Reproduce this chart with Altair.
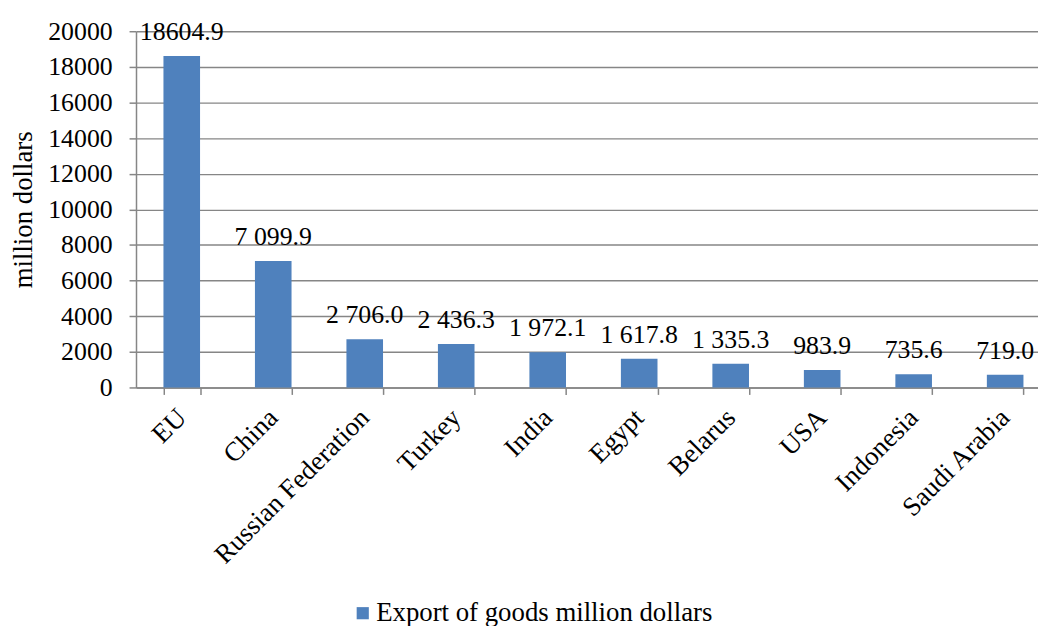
import altair as alt
import pandas as pd

categories = ["EU", "China", "Russian Federation", "Turkey", "India", "Egypt",
              "Belarus", "USA", "Indonesia", "Saudi Arabia"]
values = [18604.9, 7099.9, 2706.0, 2436.3, 1972.1, 1617.8, 1335.3, 983.9, 735.6, 719.0]
value_labels = ["18604.9", "7 099.9", "2 706.0", "2 436.3", "1 972.1", "1 617.8",
                "1 335.3", "983.9", "735.6", "719.0"]
series_name = "Export of goods million dollars"
y_ticks = [0, 2000, 4000, 6000, 8000, 10000, 12000, 14000, 16000, 18000, 20000]

df = pd.DataFrame({"country": categories, "value": values,
                   "label": value_labels, "series": series_name})

FONT = "Liberation Serif"
GRAY = "#868686"
BLUE = "#4F81BD"

x_axis = alt.Axis(labelAngle=-45, labelAlign="right", labelBaseline="middle",
                  labelFontSize=27, labelFont=FONT, labelColor="black",
                  tickBand="extent", tickSize=7, tickColor=GRAY, tickWidth=1.5,
                  domainColor=GRAY, domainWidth=1.5, labelPadding=19,
                  grid=False, labelLimit=500, labelOverlap=False)
y_axis = alt.Axis(values=y_ticks, format="d", title="million dollars",
                  titleFont=FONT, titleFontSize=27, titleFontWeight="normal",
                  titleColor="black", titlePadding=10,
                  labelFont=FONT, labelFontSize=26, labelColor="black",
                  labelPadding=17, tickSize=7, tickColor=GRAY, tickWidth=1.5,
                  domainColor=GRAY, domainWidth=1.5, labelOverlap=False,
                  grid=True, gridColor=GRAY, gridWidth=1.4)

x_scale = alt.Scale(range=[0, 922], paddingInner=0.6, paddingOuter=0.3)
y_scale = alt.Scale(domain=[0, 20000], nice=False)

bars = alt.Chart(df).mark_bar().encode(
    x=alt.X("country:N", sort=categories, title=None, scale=x_scale, axis=x_axis),
    y=alt.Y("value:Q", scale=y_scale, axis=y_axis),
    color=alt.Color("series:N", scale=alt.Scale(range=[BLUE]),
                    legend=alt.Legend(title=None, orient="none", legendX=215, legendY=573,
                                      symbolType="square", symbolSize=150,
                                      symbolStrokeWidth=0, labelFont=FONT,
                                      labelFontSize=27, labelColor="black",
                                      labelOffset=0, padding=0, labelLimit=600)),
)

text = alt.Chart(df).mark_text(dy=-16, baseline="alphabetic", fontSize=26,
                               font=FONT, color="black").encode(
    x=alt.X("country:N", sort=categories, title=None, scale=x_scale, axis=x_axis),
    y=alt.Y("value:Q", scale=y_scale, axis=y_axis),
    text="label:N",
)

chart = alt.layer(bars, text).properties(
    width=902, height=359,
    autosize=alt.AutoSizeParams(type="none"),
    padding={"left": 129, "top": 21, "right": 7, "bottom": 238},
).configure_view(stroke=None)

chart.save("out.html", embed_options={"renderer": "svg", "actions": False})
